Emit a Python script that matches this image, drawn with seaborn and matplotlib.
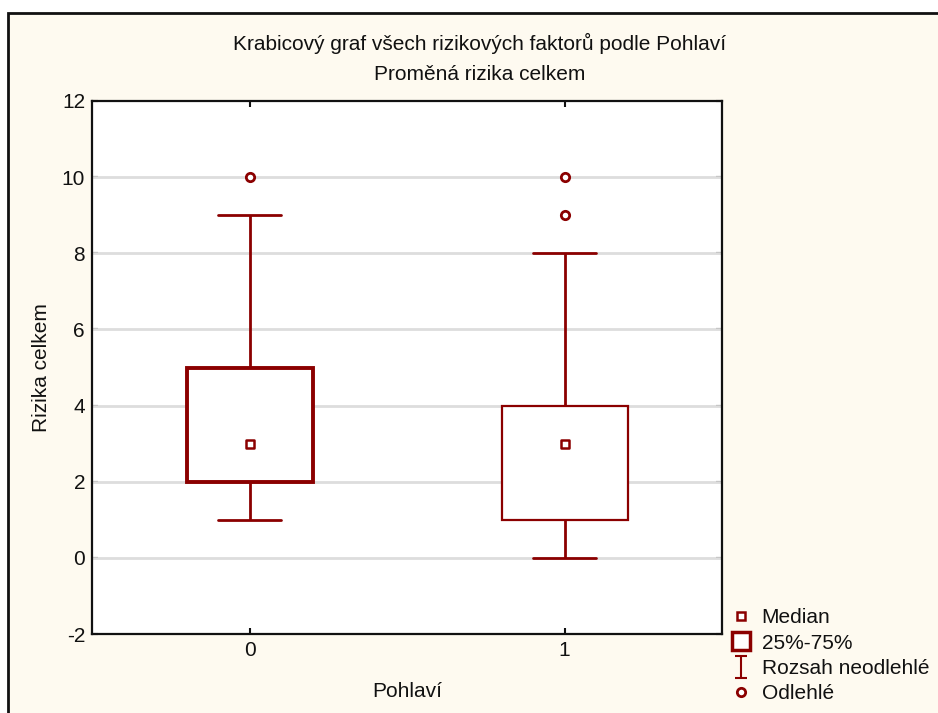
import matplotlib
matplotlib.use("Agg")
import matplotlib.pyplot as plt
from matplotlib.path import Path
from matplotlib.lines import Line2D
from matplotlib.patches import Rectangle
import seaborn as sns
import pandas as pd

# ---- data (raw values reproducing the box statistics) ----
pohlavi_labels = ["0", "1"]
values_0 = [1, 1, 2, 2, 2, 3, 3, 4, 4, 5, 6, 9, 10]
values_1 = [0, 0, 1, 1, 1, 2, 3, 3, 4, 4, 8, 9, 10]
y_ticks = [-2, 0, 2, 4, 6, 8, 10, 12]

title1 = "Krabicový graf všech rizikových faktorů podle Pohlaví"
title2 = "Proměná rizika celkem"
xlabel = "Pohlaví"
ylabel = "Rizika celkem"
legend_labels = ["Median", "25%-75%", "Rozsah neodlehlé", "Odlehlé"]

df = pd.DataFrame({
    "Pohlaví": [pohlavi_labels[0]] * len(values_0) + [pohlavi_labels[1]] * len(values_1),
    "Rizika celkem": values_0 + values_1,
})

RED = "#8B0000"
BG = "#FEFAF0"
FS = 15

sns.set_theme(style="white")
plt.rcParams["font.family"] = ["Liberation Sans", "DejaVu Sans"]
plt.rcParams["axes.unicode_minus"] = False

W, H = 938, 713
fig = plt.figure(figsize=(W / 100, H / 100), dpi=100)
fig.patch.set_facecolor("white")
# cream panel with border (top-left framed)
fig.patches.append(Rectangle((8 / W, -0.01), 1.02, 1 - 13 / H + 0.01, transform=fig.transFigure,
                             facecolor=BG, edgecolor="#111111", linewidth=2, zorder=-5))

ax = fig.add_axes([92 / W, 1 - 634 / H, (722 - 92) / W, (634 - 101) / H])
ax.set_facecolor("white")

sns.boxplot(data=df, x="Pohlaví", y="Rizika celkem", order=pohlavi_labels, ax=ax,
            width=0.4, whis=1.5, color="white", linecolor=RED, linewidth=2,
            showfliers=True,
            medianprops=dict(visible=False),
            flierprops=dict(marker="o", markersize=6, markerfacecolor="white",
                            markeredgecolor=RED, markeredgewidth=2),
            zorder=3)

# box outline widths like the reference
if len(ax.patches) >= 2:
    ax.patches[0].set_linewidth(2.8)
    ax.patches[1].set_linewidth(1.6)

# medians as small squares
med = df.groupby("Pohlaví")["Rizika celkem"].median().reindex(pohlavi_labels).reset_index()
sns.scatterplot(data=med, x="Pohlaví", y="Rizika celkem", ax=ax, marker="s", s=40,
                facecolor="white", edgecolor=RED, linewidth=1.8, zorder=5, legend=False)

ax.set_xlim(-0.5, 1.5)
ax.set_ylim(-2, 12)
ax.set_yticks(y_ticks)
ax.set_xticks([0, 1])
ax.set_xticklabels(pohlavi_labels)
for v in y_ticks[1:-1]:
    ax.axhline(v, color="#DDDDDD", linewidth=2, zorder=1)

for s in ax.spines.values():
    s.set_visible(True)
    s.set_color("#111111")
    s.set_linewidth(1.6)

ax.tick_params(axis="both", direction="in", length=4, width=1.5, color="#111111",
               labelsize=FS, labelcolor="#111111", left=True, right=True, top=True, bottom=True,
               pad=5)
ax.set_xlabel(xlabel, fontsize=FS, color="#111111", labelpad=16)
ax.set_ylabel(ylabel, fontsize=FS, color="#111111", labelpad=8)

fig.text(480 / W, 1 - 43 / H, title1, ha="center", va="center", fontsize=FS, color="#111111")
fig.text(480 / W, 1 - 75 / H, title2, ha="center", va="center", fontsize=FS, color="#111111")

# legend
range_marker = Path([(-0.5, 1), (0.5, 1), (0, 1), (0, -1), (-0.5, -1), (0.5, -1)],
                    [Path.MOVETO, Path.LINETO, Path.MOVETO, Path.LINETO, Path.MOVETO, Path.LINETO])
handles = [
    Line2D([], [], ls="none", marker="s", markersize=6, markerfacecolor="white",
           markeredgecolor=RED, markeredgewidth=1.8),
    Line2D([], [], ls="none", marker="s", markersize=13, markerfacecolor="white",
           markeredgecolor=RED, markeredgewidth=2.5),
    Line2D([], [], ls="none", marker=range_marker, markersize=16, markerfacecolor="none",
           markeredgecolor=RED, markeredgewidth=1.5),
    Line2D([], [], ls="none", marker="o", markersize=6, markerfacecolor="white",
           markeredgecolor=RED, markeredgewidth=2),
]
fig.legend(handles, legend_labels, loc="upper left", bbox_to_anchor=(722 / W, 1 - 600 / H),
           frameon=False, fontsize=FS, handlelength=1.0, handletextpad=0.5,
           labelspacing=0.3, borderaxespad=0, labelcolor="#111111")

fig.savefig("out.png", dpi=100, facecolor=fig.get_facecolor())
